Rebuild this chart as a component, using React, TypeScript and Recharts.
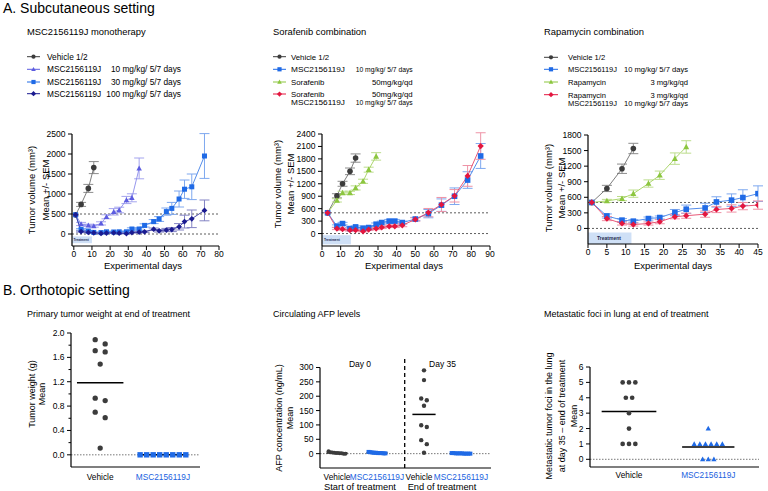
import React from 'react';
import {
  LineChart, Line, XAxis, YAxis, ErrorBar, ReferenceLine, ReferenceArea, ScatterChart, Scatter,
} from 'recharts';

const FONT = '"Liberation Sans", Arial, Helvetica, sans-serif';

// ---------------- A1: MSC2156119J monotherapy ----------------
const a1Days = [1, 4, 8, 11, 15, 18, 22, 25, 29, 32, 36, 39, 44, 47, 51, 54, 58, 61, 65, 72];
const a1VehicleVals = [480, 740, 1140, 1660];
const a1VehicleErr = [0, 50, 100, 150];
const a1Mg10Vals = [480, 250, 215, 200, 265, 430, 555, 600, 850, 905, 1640];
const a1Mg10Err = [0, 40, 30, 30, 40, 50, 80, 70, 90, 100, 260];
const a1Mg30Vals = [480, 115, 75, 40, 35, 55, 50, 55, 55, 125, 125, 215, 310, 375, 560, 640, 875, 1120, 1180, 1950];
const a1Mg30Err = [0, 20, 15, 10, 10, 15, 15, 15, 20, 30, 30, 40, 50, 60, 90, 150, 200, 230, 320, 560];
const a1Mg100Vals = [480, 60, 40, 30, 15, 25, 30, 20, 10, 35, 45, 55, 120, 80, 100, 110, 180, 310, 380, 590];
const a1Mg100Err = [0, 15, 10, 10, 5, 10, 10, 10, 5, 10, 15, 20, 30, 30, 40, 50, 80, 160, 220, 260];
const a1XTicks = [0, 10, 20, 30, 40, 50, 60, 70, 80];
const a1YTicks = [0, 500, 1000, 1500, 2000, 2500];

// ---------------- A2: Sorafenib combination ----------------
const a2Days = [3, 8, 11, 15, 18, 22, 25, 29, 32, 36, 39, 43, 50, 57, 64, 71, 78, 85];
const a2VehicleVals = [500, 910, 1200, 1500, 1820];
const a2VehicleErr = [0, 50, 60, 80, 100];
const a2SoraVals = [500, 800, 980, 980, 1100, 1260, 1540, 1860];
const a2SoraErr = [0, 40, 40, 40, 50, 50, 60, 90];
const a2MscVals = [500, 180, 240, 120, 160, 130, 145, 225, 265, 300, 300, 265, 350, 480, 685, 900, 1290, 1870];
const a2MscErr = [0, 30, 30, 20, 25, 20, 25, 30, 35, 40, 40, 35, 40, 100, 150, 200, 200, 300];
const a2ComboVals = [500, 120, 105, 80, 80, 55, 95, 120, 150, 175, 175, 200, 340, 505, 700, 910, 1390, 2110];
const a2ComboErr = [0, 25, 25, 20, 20, 15, 20, 25, 30, 30, 30, 35, 40, 100, 170, 150, 250, 320];
const a2XTicks = [0, 10, 20, 30, 40, 50, 60, 70, 80, 90];
const a2YTicks = [0, 300, 600, 900, 1200, 1500, 1800, 2100, 2400];

// ---------------- A3: Rapamycin combination ----------------
const a3Days = [1, 5, 9, 12, 16, 19, 23, 26, 31, 34, 38, 41, 45];
const a3VehicleVals = [500, 770, 1150, 1540];
const a3VehicleErr = [0, 60, 90, 100];
const a3RapaVals = [500, 530, 575, 670, 865, 1025, 1345, 1570];
const a3RapaErr = [0, 30, 40, 70, 70, 80, 110, 120];
const a3MscVals = [500, 240, 160, 140, 190, 210, 305, 370, 395, 510, 545, 595, 670];
const a3MscErr = [0, 40, 30, 30, 30, 30, 60, 80, 90, 100, 120, 150, 150];
const a3ComboVals = [500, 190, 95, 75, 95, 130, 225, 245, 275, 365, 385, 430, 450];
const a3ComboErr = [0, 40, 30, 30, 30, 40, 40, 50, 60, 60, 70, 70, 80];
const a3XTicks = [0, 5, 10, 15, 20, 25, 30, 35, 40, 45];
const a3YTicks = [0, 300, 600, 900, 1200, 1500, 1800];

// ---------------- B1: primary tumor weight ----------------
const b1Vehicle = [1.89, 1.82, 1.71, 1.69, 1.49, 0.93, 0.89, 0.70, 0.61, 0.11];
const b1Msc = [0, 0, 0, 0, 0, 0, 0, 0];
const b1Categories = ['Vehicle', 'MSC2156119J'];
const b1YTicks = [0, 0.2, 0.4, 0.6, 0.8, 1.0, 1.2, 1.4, 1.6, 1.8, 2.0];
const b1YMajor = [0, 0.4, 0.8, 1.2, 1.6, 2.0];

// ---------------- B2: circulating AFP ----------------
const b2Day0Vehicle = [0, 2, 1, 3, 0, 5, 2, 8, 4, 1];
const b2Day0Msc = [2, 3, 1, 4, 5, 2, 3, 6, 1, 2];
const b2Day35Vehicle = [290, 256, 192, 186, 167, 99, 93, 47, 33, 3];
const b2Day35Msc = [1, 0, 2, 1, 0, 1, 0, 2, 1, 0];
const b2Categories = ['Vehicle', 'MSC2156119J', 'Vehicle', 'MSC2156119J'];
const b2Groups = ['Start of treatment', 'End of treatment'];
const b2Days = ['Day 0', 'Day 35'];
const b2YTicks = [0, 50, 100, 150, 200, 250, 300];

// ---------------- B3: metastatic foci ----------------
const b3Vehicle = [5, 5, 5, 4, 4, 3, 2, 1, 1, 1];
const b3Msc = [2, 1, 1, 1, 1, 1, 1, 0, 0, 0];
const b3Categories = ['Vehicle', 'MSC2156119J'];
const b3YTicks = [0, 1, 2, 3, 4, 5, 6];

// ---------------- colours ----------------
const GREY = '#3c3c3c', GREY_L = '#6e6e6e', GREY_E = '#8c8c8c';
const SLATE = '#5c5ce0', SLATE_L = '#8a8aea', SLATE_E = '#a4a4ee';
const BLUE = '#1f6ae6', BLUE_L = '#3f7fe8', BLUE_E = '#7ea8ef';
const NAVY = '#1b1b90', NAVY_L = '#3a3aa4', NAVY_E = '#8383c4';
const GREEN = '#8cc63f', GREEN_L = '#a3d15e', GREEN_E = '#bcdd8c';
const RED = '#e3163f', RED_L = '#e54468', RED_E = '#ee93a6';
const LBL_BLUE = '#1a5fe0';

type Shape = 'circle' | 'square' | 'triangle' | 'diamond';
type Pt = { day: number; v: number; e: number };
const toSeries = (days: number[], vals: number[], errs: number[]): Pt[] =>
  vals.map((v, i) => ({ day: days[i], v, e: errs[i] }));

function Mark({ cx, cy, shape, fill, size }: any) {
  if (cx == null || cy == null || isNaN(cx) || isNaN(cy)) return <g />;
  const h = size / 2;
  if (shape === 'circle') return <circle cx={cx} cy={cy} r={h} fill={fill} />;
  if (shape === 'square') return <rect x={cx - h} y={cy - h} width={size} height={size} fill={fill} />;
  if (shape === 'triangle')
    return (
      <polygon
        points={`${cx},${cy - h * 1.15} ${cx + h * 1.1},${cy + h * 0.85} ${cx - h * 1.1},${cy + h * 0.85}`}
        fill={fill}
      />
    );
  return (
    <polygon
      points={`${cx},${cy - h * 1.25} ${cx + h * 1.25},${cy} ${cx},${cy + h * 1.25} ${cx - h * 1.25},${cy}`}
      fill={fill}
    />
  );
}

const AXIS = { stroke: '#000', strokeWidth: 1.2 };

const XNumTick = (props: any) => {
  const { x, y, payload } = props;
  return (
    <g>
      <line x1={x} x2={x} y1={y} y2={y + 4} stroke="#000" strokeWidth={1} />
      <text x={x} y={y + 11} textAnchor="middle" fontSize={8.5} fontFamily={FONT} fill="#000">
        {payload.value}
      </text>
    </g>
  );
};

const makeYTick = (majors: number[] | null, decimals: number) => (props: any) => {
  const { x, y, payload } = props;
  const v = payload.value as number;
  const isMajor = !majors || majors.some((m) => Math.abs(m - v) < 1e-9);
  return (
    <g>
      <line x1={x - (isMajor ? 4 : 2.5)} x2={x} y1={y} y2={y} stroke="#000" strokeWidth={1} />
      {isMajor && (
        <text x={x - 6.5} y={y + 3} textAnchor="end" fontSize={8.5} fontFamily={FONT} fill="#000">
          {v.toFixed(decimals)}
        </text>
      )}
    </g>
  );
};

const makeCatTick = (labels: string[], colors: string[], dy: number, shifts?: number[]) => (props: any) => {
  const { x, y, index } = props;
  return (
    <text
      x={x + (shifts ? shifts[index] : 0)}
      y={y + dy}
      textAnchor="middle"
      fontSize={8.3}
      fontFamily={FONT}
      fill={colors[index]}
    >
      {labels[index]}
    </text>
  );
};

interface Ser {
  key: string;
  data: Pt[];
  shape: Shape;
  fill: string;
  line: string;
  err: string;
  size: number;
}

function TimeChart(p: {
  left: number; top: number; width: number; height: number; yw: number; mt: number; mr: number;
  xDomain: [number, number]; xTicks: number[]; yDomain: [number, number]; yTicks: number[];
  series: Ser[]; treat: { x1: number; x2: number; y1: number; y2: number; fs: number; off: number };
}) {
  return (
    <div style={{ position: 'absolute', left: p.left, top: p.top }}>
      <LineChart width={p.width} height={p.height} margin={{ top: p.mt, right: p.mr, bottom: 0, left: 0 }}>
        <XAxis
          type="number" dataKey="day" domain={p.xDomain} ticks={p.xTicks} allowDataOverflow interval={0}
          height={30} tickSize={0} tickMargin={0} tickLine={false} axisLine={AXIS} tick={XNumTick}
        />
        <YAxis
          type="number" domain={p.yDomain} ticks={p.yTicks} allowDataOverflow interval={0}
          width={p.yw} tickSize={0} tickMargin={0} tickLine={false} axisLine={AXIS} tick={makeYTick(null, 0)}
        />
        <ReferenceArea
          x1={p.treat.x1} x2={p.treat.x2} y1={p.treat.y1} y2={p.treat.y2}
          fill="#cfe0f6" fillOpacity={1} stroke="none" ifOverflow="visible"
          label={{ value: 'Treatment', position: 'insideLeft', offset: p.treat.off, fontSize: p.treat.fs, fontWeight: 700, fill: '#1d2b4f', fontFamily: FONT }}
        />
        <ReferenceLine y={500} stroke="#333" strokeWidth={0.8} strokeDasharray="2 2" />
        <ReferenceLine y={0} stroke="#333" strokeWidth={0.8} strokeDasharray="2 2" />
        {p.series.map((s) => (
          <Line
            key={s.key}
            data={s.data}
            dataKey="v"
            stroke={s.line}
            strokeWidth={0.9}
            isAnimationActive={false}
            activeDot={false}
            dot={(d: any) => (
              <Mark key={`${s.key}-${d.index}`} cx={d.cx} cy={d.cy} shape={s.shape} fill={s.fill} size={s.size} />
            )}
          >
            <ErrorBar dataKey="e" width={5} stroke={s.err} strokeWidth={1} direction="y" isAnimationActive={false} />
          </Line>
        ))}
      </LineChart>
    </div>
  );
}

// group near-equal values and centre each group horizontally (offsets in steps)
function swarm(vals: number[], thr: number): number[] {
  const idx = vals.map((_, i) => i).sort((a, b) => vals[b] - vals[a]);
  const offs = new Array(vals.length).fill(0);
  let g: number[] = [];
  const flush = () => {
    g.forEach((id, k) => (offs[id] = k - (g.length - 1) / 2));
    g = [];
  };
  for (const id of idx) {
    if (g.length && Math.abs(vals[g[g.length - 1]] - vals[id]) > thr) flush();
    g.push(id);
  }
  flush();
  return offs;
}
const meanOf = (a: number[]) => a.reduce((s, v) => s + v, 0) / a.length;

interface Cloud {
  key: string; vals: number[]; pos: number; thr: number; step: number;
  shape: Shape; fill: string; size: number; half: number;
}

function DotChart(p: {
  left: number; top: number; width: number; height: number; yw: number; mt: number; mr: number; xh: number;
  xDomain: [number, number]; xTicks: number[]; yDomain: [number, number]; yTicks: number[];
  xTick: any; yTick: any; clouds: Cloud[]; partialYAxis?: number; vline?: number;
}) {
  return (
    <div style={{ position: 'absolute', left: p.left, top: p.top }}>
      <ScatterChart width={p.width} height={p.height} margin={{ top: p.mt, right: p.mr, bottom: 0, left: 0 }}>
        <XAxis
          type="number" dataKey="x" domain={p.xDomain} ticks={p.xTicks} allowDataOverflow interval={0}
          height={p.xh} tickSize={0} tickMargin={0} tickLine={false} axisLine={AXIS} tick={p.xTick}
        />
        <YAxis
          type="number" dataKey="y" domain={p.yDomain} ticks={p.yTicks} allowDataOverflow interval={0}
          width={p.yw} tickSize={0} tickMargin={0} tickLine={false}
          axisLine={p.partialYAxis != null ? false : AXIS} tick={p.yTick}
        />
        <ReferenceLine y={0} stroke="#555" strokeWidth={0.8} strokeDasharray="1.5 1.5" />
        {p.partialYAxis != null && (
          <ReferenceLine
            segment={[{ x: p.xDomain[0], y: p.yDomain[0] }, { x: p.xDomain[0], y: p.partialYAxis }]}
            stroke="#000" strokeWidth={1.2} ifOverflow="visible"
          />
        )}
        {p.vline != null && (
          <ReferenceLine x={p.vline} stroke="#000" strokeWidth={1.3} strokeDasharray="4 3" />
        )}
        {p.clouds.map((c) => (
          <ReferenceLine
            key={`m-${c.key}`}
            segment={[{ x: c.pos - c.half, y: meanOf(c.vals) }, { x: c.pos + c.half, y: meanOf(c.vals) }]}
            stroke="#000" strokeWidth={1.5} ifOverflow="visible"
          />
        ))}
        {p.clouds.map((c) => {
          const offs = swarm(c.vals, c.thr);
          const pts = c.vals.map((v, i) => ({ x: c.pos + offs[i] * c.step, y: v }));
          return (
            <Scatter
              key={c.key}
              data={pts}
              isAnimationActive={false}
              shape={(s: any) => <Mark cx={s.cx} cy={s.cy} shape={c.shape} fill={c.fill} size={c.size} />}
            />
          );
        })}
      </ScatterChart>
    </div>
  );
}

const T = ({ x, y, s = 9, a = 'start', w = 400, fill = '#000', rot = false, len, children }: any) => (
  <text
    x={x} y={y} fontSize={s} textAnchor={a} fontWeight={w} fill={fill} fontFamily={FONT}
    transform={rot ? `rotate(-90 ${x} ${y})` : undefined}
    textLength={len} lengthAdjust={len ? 'spacingAndGlyphs' : undefined}
  >
    {children}
  </text>
);

interface LegRow { name: string; dose: string; name2?: string; dose2?: string; shape: Shape; color: string }

function Legend({ lx1, lx2, tx, dx, ys, rows, fs, nameLen, doseLen }: {
  lx1: number; lx2: number; tx: number; dx: number; ys: number[]; rows: LegRow[]; fs: number;
  nameLen?: number; doseLen?: number;
}) {
  const nLen = (s: string) => (nameLen && s.startsWith('MSC') ? nameLen : undefined);
  const dLen = (s: string) => (doseLen && s.includes('days') ? doseLen : undefined);
  return (
    <g>
      {rows.map((r, i) => (
        <g key={i}>
          <line x1={lx1} x2={lx2} y1={ys[i]} y2={ys[i]} stroke={r.color} strokeWidth={1} />
          <Mark cx={(lx1 + lx2) / 2} cy={ys[i]} shape={r.shape} fill={r.color} size={4.2} />
          <T x={tx} y={ys[i] + 3} s={fs} len={nLen(r.name)}>{r.name}</T>
          {r.dose && <T x={dx} y={ys[i] + 3} s={fs} a="end" len={dLen(r.dose)}>{r.dose}</T>}
          {r.name2 && <T x={tx} y={ys[i] + 11} s={fs} len={nLen(r.name2)}>{r.name2}</T>}
          {r.dose2 && <T x={dx} y={ys[i] + 11} s={fs} a="end" len={dLen(r.dose2)}>{r.dose2}</T>}
        </g>
      ))}
    </g>
  );
}

export default function App() {
  const a1Series: Ser[] = [
    { key: 'veh', data: toSeries(a1Days, a1VehicleVals, a1VehicleErr), shape: 'circle', fill: GREY, line: GREY_L, err: GREY_E, size: 5.6 },
    { key: 'm10', data: toSeries(a1Days, a1Mg10Vals, a1Mg10Err), shape: 'triangle', fill: SLATE, line: SLATE_L, err: SLATE_E, size: 5 },
    { key: 'm30', data: toSeries(a1Days, a1Mg30Vals, a1Mg30Err), shape: 'square', fill: BLUE, line: BLUE_L, err: BLUE_E, size: 5 },
    { key: 'm100', data: toSeries(a1Days, a1Mg100Vals, a1Mg100Err), shape: 'diamond', fill: NAVY, line: NAVY_L, err: NAVY_E, size: 4.6 },
  ];
  const a2Series: Ser[] = [
    { key: 'veh', data: toSeries(a2Days, a2VehicleVals, a2VehicleErr), shape: 'circle', fill: GREY, line: GREY_L, err: GREY_E, size: 5.6 },
    { key: 'sora', data: toSeries(a2Days, a2SoraVals, a2SoraErr), shape: 'triangle', fill: GREEN, line: GREEN_L, err: GREEN_E, size: 5.4 },
    { key: 'msc', data: toSeries(a2Days, a2MscVals, a2MscErr), shape: 'square', fill: BLUE, line: BLUE_L, err: BLUE_E, size: 5.6 },
    { key: 'combo', data: toSeries(a2Days, a2ComboVals, a2ComboErr), shape: 'diamond', fill: RED, line: RED_L, err: RED_E, size: 5 },
  ];
  const a3Series: Ser[] = [
    { key: 'veh', data: toSeries(a3Days, a3VehicleVals, a3VehicleErr), shape: 'circle', fill: GREY, line: GREY_L, err: GREY_E, size: 5.6 },
    { key: 'rapa', data: toSeries(a3Days, a3RapaVals, a3RapaErr), shape: 'triangle', fill: GREEN, line: GREEN_L, err: GREEN_E, size: 5.4 },
    { key: 'msc', data: toSeries(a3Days, a3MscVals, a3MscErr), shape: 'square', fill: BLUE, line: BLUE_L, err: BLUE_E, size: 5.6 },
    { key: 'combo', data: toSeries(a3Days, a3ComboVals, a3ComboErr), shape: 'diamond', fill: RED, line: RED_L, err: RED_E, size: 5 },
  ];

  return (
    <div style={{ position: 'fixed', left: 0, top: 0, width: 768, height: 491, background: '#fff', overflow: 'hidden', fontFamily: FONT }}>
      <TimeChart
        left={0} top={120} width={230} height={156} yw={72} mt={14} mr={11}
        xDomain={[-1, 80]} xTicks={a1XTicks} yDomain={[-300, 2500]} yTicks={a1YTicks}
        series={a1Series} treat={{ x1: -1, x2: 10, y1: -230, y2: -60, fs: 3.2, off: 1.5 }}
      />
      <TimeChart
        left={256} top={120} width={244} height={156} yw={66} mt={14} mr={10}
        xDomain={[0, 90]} xTicks={a2XTicks} yDomain={[-300, 2400]} yTicks={a2YTicks}
        series={a2Series} treat={{ x1: 0, x2: 15.5, y1: -260, y2: -40, fs: 3.3, off: 2 }}
      />
      <TimeChart
        left={512} top={120} width={256} height={154} yw={76} mt={15} mr={10}
        xDomain={[0, 45]} xTicks={a3XTicks} yDomain={[-300, 1800]} yTicks={a3YTicks}
        series={a3Series} treat={{ x1: 0, x2: 11.5, y1: -300, y2: -80, fs: 5, off: 9 }}
      />

      <DotChart
        left={0} top={320} width={210} height={167} yw={71} mt={13} mr={10} xh={20}
        xDomain={[0.535, 2.59]} xTicks={[1, 2]} yDomain={[-0.2, 2.0]} yTicks={b1YTicks}
        xTick={makeCatTick(b1Categories, ['#000', LBL_BLUE], 12.5)} yTick={makeYTick(b1YMajor, 1)}
        clouds={[
          { key: 'veh', vals: b1Vehicle, pos: 1, thr: 0.1, step: 0.159, shape: 'circle', fill: GREY, size: 5.3, half: 0.37 },
          { key: 'msc', vals: b1Msc, pos: 2, thr: 0.05, step: 0.104, shape: 'square', fill: BLUE, size: 5.4, half: 0.37 },
        ]}
      />
      <DotChart
        left={256} top={320} width={245} height={172} yw={64} mt={36} mr={10} xh={24}
        xDomain={[0.575, 4.85]} xTicks={[1, 2, 3.175, 4.1]} yDomain={[-50, 340]} yTicks={b2YTicks}
        xTick={makeCatTick(b2Categories, ['#000', LBL_BLUE, '#000', LBL_BLUE], 12, [0, 0, -5, 0])}
        yTick={makeYTick(null, 0)} partialYAxis={300} vline={2.6925}
        clouds={[
          { key: 'd0v', vals: b2Day0Vehicle, pos: 1, thr: 5, step: 0.047, shape: 'circle', fill: GREY, size: 4, half: 0.26 },
          { key: 'd0m', vals: b2Day0Msc, pos: 2, thr: 5, step: 0.047, shape: 'square', fill: BLUE, size: 4, half: 0.26 },
          { key: 'd35v', vals: b2Day35Vehicle, pos: 3.175, thr: 15, step: 0.14, shape: 'circle', fill: GREY, size: 4.4, half: 0.29 },
          { key: 'd35m', vals: b2Day35Msc, pos: 4.1, thr: 5, step: 0.052, shape: 'square', fill: BLUE, size: 4, half: 0.26 },
        ]}
      />
      <DotChart
        left={512} top={320} width={256} height={169} yw={78} mt={47} mr={9} xh={22}
        xDomain={[0.508, 2.64]} xTicks={[1, 2]} yDomain={[-0.5, 6]} yTicks={b3YTicks}
        xTick={makeCatTick(b3Categories, ['#000', LBL_BLUE], 10.5)} yTick={makeYTick(null, 0)}
        clouds={[
          { key: 'veh', vals: b3Vehicle, pos: 1, thr: 0.1, step: 0.08, shape: 'circle', fill: GREY, size: 4.7, half: 0.345 },
          { key: 'msc', vals: b3Msc, pos: 2, thr: 0.1, step: 0.071, shape: 'triangle', fill: BLUE, size: 4.8, half: 0.33 },
        ]}
      />

      <svg width={768} height={491} style={{ position: 'absolute', left: 0, top: 0, pointerEvents: 'none' }}>
        <T x={3} y={13.3} s={14}>A. Subcutaneous setting</T>
        <T x={3} y={294.5} s={14}>B. Orthotopic setting</T>

        <T x={27} y={35} s={9.4}>MSC2156119J monotherapy</T>
        <T x={273} y={35} s={9.4}>Sorafenib combination</T>
        <T x={544} y={35} s={9.4}>Rapamycin combination</T>

        <Legend
          lx1={27} lx2={40} tx={47} dx={181} ys={[56.7, 69.3, 82, 93.7]} fs={8.3}
          rows={[
            { name: 'Vehicle 1/2', dose: '', shape: 'circle', color: GREY },
            { name: 'MSC2156119J', dose: '10 mg/kg/ 5/7 days', shape: 'triangle', color: SLATE },
            { name: 'MSC2156119J', dose: '30 mg/kg/ 5/7 days', shape: 'square', color: BLUE },
            { name: 'MSC2156119J', dose: '100 mg/kg/ 5/7 days', shape: 'diamond', color: NAVY },
          ]}
        />
        <Legend
          lx1={273} lx2={286} tx={291} dx={412.7} ys={[56.7, 69.3, 82, 94]} fs={7.8} nameLen={54} doseLen={57}
          rows={[
            { name: 'Vehicle 1/2', dose: '', shape: 'circle', color: GREY },
            { name: 'MSC2156119J', dose: '10 mg/kg/ 5/7 days', shape: 'square', color: BLUE },
            { name: 'Sorafenib', dose: '50mg/kg/qd', shape: 'triangle', color: GREEN },
            { name: 'Sorafenib', dose: '50mg/kg/qd', name2: 'MSC2156119J', dose2: '10 mg/kg/ 5/7 days', shape: 'diamond', color: RED },
          ]}
        />
        <Legend
          lx1={544} lx2={558} tx={568} dx={688} ys={[57.3, 69.3, 82, 94.7]} fs={7.6} nameLen={49} doseLen={64}
          rows={[
            { name: 'Vehicle 1/2', dose: '', shape: 'circle', color: GREY },
            { name: 'MSC2156119J', dose: '10 mg/kg/ 5/7 days', shape: 'square', color: BLUE },
            { name: 'Rapamycin', dose: '3 mg/kg/qd', shape: 'triangle', color: GREEN },
            { name: 'Rapamycin', dose: '3 mg/kg/qd', name2: 'MSC2156119J', dose2: '10 mg/kg/ 5/7 days', shape: 'diamond', color: RED },
          ]}
        />

        <T x={35.2} y={190} s={9.5} a="middle" rot>Tumor volume (mm³)</T>
        <T x={48.5} y={190} s={9.5} a="middle" rot>Mean +/- SEM</T>
        <T x={281.2} y={184} s={9.5} a="middle" rot>Tumor volume (mm³)</T>
        <T x={293.8} y={184} s={9.5} a="middle" rot>Mean +/- SEM</T>
        <T x={552.2} y={188} s={9.5} a="middle" rot>Tumor volume (mm³)</T>
        <T x={564.8} y={188} s={9.5} a="middle" rot>Mean +/- SEM</T>
        <T x={143} y={269} s={9.5} a="middle">Experimental days</T>
        <T x={404} y={269} s={9.5} a="middle">Experimental days</T>
        <T x={673} y={269} s={9.5} a="middle">Experimental days</T>

        <T x={27} y={317} s={9}>Primary tumor weight at end of treatment</T>
        <T x={273} y={317} s={9}>Circulating AFP levels</T>
        <T x={544} y={317} s={9}>Metastatic foci in lung at end of treatment</T>

        <T x={35} y={394} s={9} a="middle" rot>Tumor weight (g)</T>
        <T x={44.5} y={394} s={9} a="middle" rot>Mean</T>
        <T x={282} y={418} s={9} a="middle" rot>AFP concentration (ng/mL)</T>
        <T x={292.6} y={418} s={9} a="middle" rot>Mean</T>
        <T x={552} y={416} s={9} a="middle" rot>Metastatic tumor foci in the lung</T>
        <T x={564.6} y={416} s={9} a="middle" rot>at day 35 – end of treatment</T>
        <T x={577} y={416} s={9} a="middle" rot>Mean</T>

        <T x={360} y={366.5} s={8.5} a="middle">{b2Days[0]}</T>
        <T x={442.5} y={366.5} s={8.5} a="middle">{b2Days[1]}</T>
        <T x={360} y={490} s={9.3} a="middle">{b2Groups[0]}</T>
        <T x={442} y={490} s={9.3} a="middle">{b2Groups[1]}</T>
      </svg>
    </div>
  );
}
